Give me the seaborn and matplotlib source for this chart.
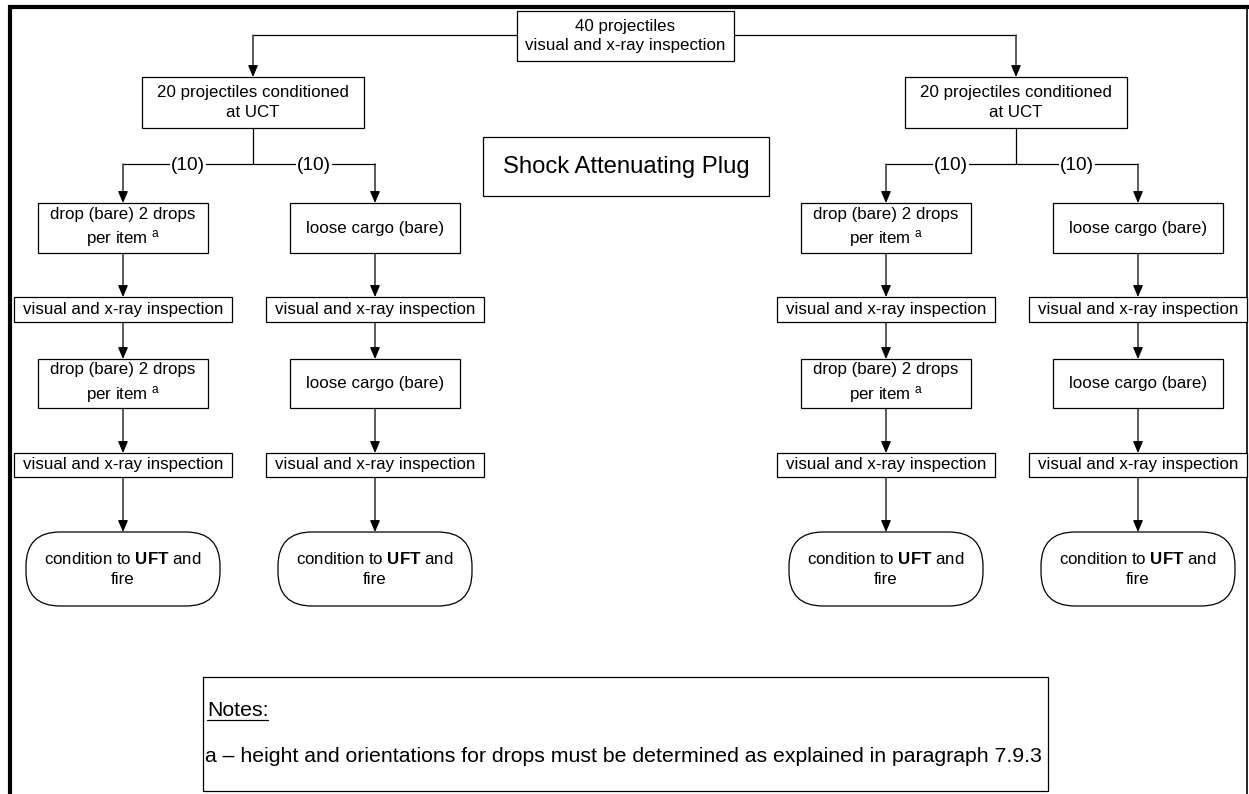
import seaborn as sns
import matplotlib.pyplot as plt
from matplotlib.patches import FancyBboxPatch

# labels of the flowchart
top_label = "40 projectiles\nvisual and x-ray inspection"
group_label = "20 projectiles conditioned\nat UCT"
split_labels = ["(10)", "(10)"]
step_labels = ["drop (bare) 2 drops\nper item $^{\\mathrm{a}}$", "loose cargo (bare)"]
inspect_label = "visual and x-ray inspection"
end_label = "condition to $\\mathbf{UFT}$ and\nfire"
title_label = "Shock Attenuating Plug"
notes_title = "Notes:"
notes_text = "a \u2013 height and orientations for drops must be determined as explained in paragraph 7.9.3"

sns.set_theme(style="white")
plt.rcParams['font.family'] = ['Liberation Sans', 'DejaVu Sans']
plt.rcParams['text.color'] = 'black'
plt.rcParams['mathtext.fontset'] = 'custom'
plt.rcParams['mathtext.rm'] = 'Liberation Sans'
plt.rcParams['mathtext.bf'] = 'Liberation Sans:bold'
plt.rcParams['mathtext.it'] = 'Liberation Sans:italic'

fig = plt.figure(figsize=(12.49, 7.94), dpi=100)
ax = fig.add_axes([0, 0, 1, 1])
ax.set_xlim(0, 1249)
ax.set_ylim(794, 0)
ax.axis('off')

LW = 0.9
FS = 12.2


def box(cx, cy, w, h, text, fs=FS, rounded=False):
    style = "round,pad=0,rounding_size=34" if rounded else "square,pad=0"
    ax.add_patch(FancyBboxPatch((cx - w / 2, cy - h / 2), w, h, boxstyle=style,
                                fc='white', ec='black', lw=LW, zorder=3))
    ax.text(cx, cy, text, ha='center', va='center', fontsize=fs, color='black',
            linespacing=1.4, zorder=4)


def arrow(x, y0, y1):
    ax.annotate("", xy=(x, y1), xytext=(x, y0),
                arrowprops=dict(arrowstyle="-|>,head_length=0.7,head_width=0.3",
                                color='black', lw=LW, shrinkA=0, shrinkB=0,
                                mutation_scale=10), zorder=2)


def line(xs, ys):
    ax.plot(xs, ys, color='black', lw=LW, zorder=1, solid_capstyle='butt')


# page border
ax.plot([8, 1249], [7, 7], color='black', lw=3, solid_capstyle='butt')
ax.plot([10, 10], [5, 794], color='black', lw=3, solid_capstyle='butt')
ax.plot([1247.5, 1247.5], [7, 794], color='black', lw=1.2, solid_capstyle='butt')

# top node
group_x = [253, 1016]
box(625.5, 36, 217, 50, top_label)
line([group_x[0], group_x[1]], [35, 35])

box(626, 166.5, 286, 59, title_label, fs=17.2)

for gx in group_x:
    arrow(gx, 35, 77)
    box(gx, 102.5, 222, 51, group_label)
    line([gx, gx], [128, 164])
    cols = [gx - 130, gx + 122]
    line([cols[0], cols[1]], [164, 164])
    for lab, mid in zip(split_labels, [(cols[0] + gx) / 2, (cols[1] + gx) / 2]):
        ax.text(mid, 165, lab, ha='center', va='center', fontsize=13.7, zorder=4,
                color='black', bbox=dict(fc='white', ec='none', pad=0.8))
    for cx, step in zip(cols, step_labels):
        arrow(cx, 164, 203)
        box(cx, 228, 170, 50, step)
        arrow(cx, 253, 297)
        box(cx, 309.5, 218, 25, inspect_label)
        arrow(cx, 322, 359)
        box(cx, 383.5, 170, 49, step)
        arrow(cx, 408, 453)
        box(cx, 465, 218, 24, inspect_label)
        arrow(cx, 477, 532)
        box(cx, 569, 194, 74, end_label, rounded=True)

# notes box
ax.add_patch(FancyBboxPatch((203, 677), 845, 114, boxstyle="square,pad=0",
                            fc='white', ec='black', lw=LW, zorder=3))
nt = ax.text(207, 711, notes_title, ha='left', va='center', fontsize=15.3,
             color='black', zorder=4)
ax.text(205, 757, notes_text, ha='left', va='center', fontsize=15.3,
        color='black', zorder=4)

fig.canvas.draw()
bb = nt.get_window_extent().transformed(ax.transData.inverted())
ax.plot([bb.x0, bb.x1], [max(bb.y0, bb.y1) - 1, max(bb.y0, bb.y1) - 1],
        color='black', lw=0.9, zorder=4)

fig.savefig('out.png', dpi=100)
